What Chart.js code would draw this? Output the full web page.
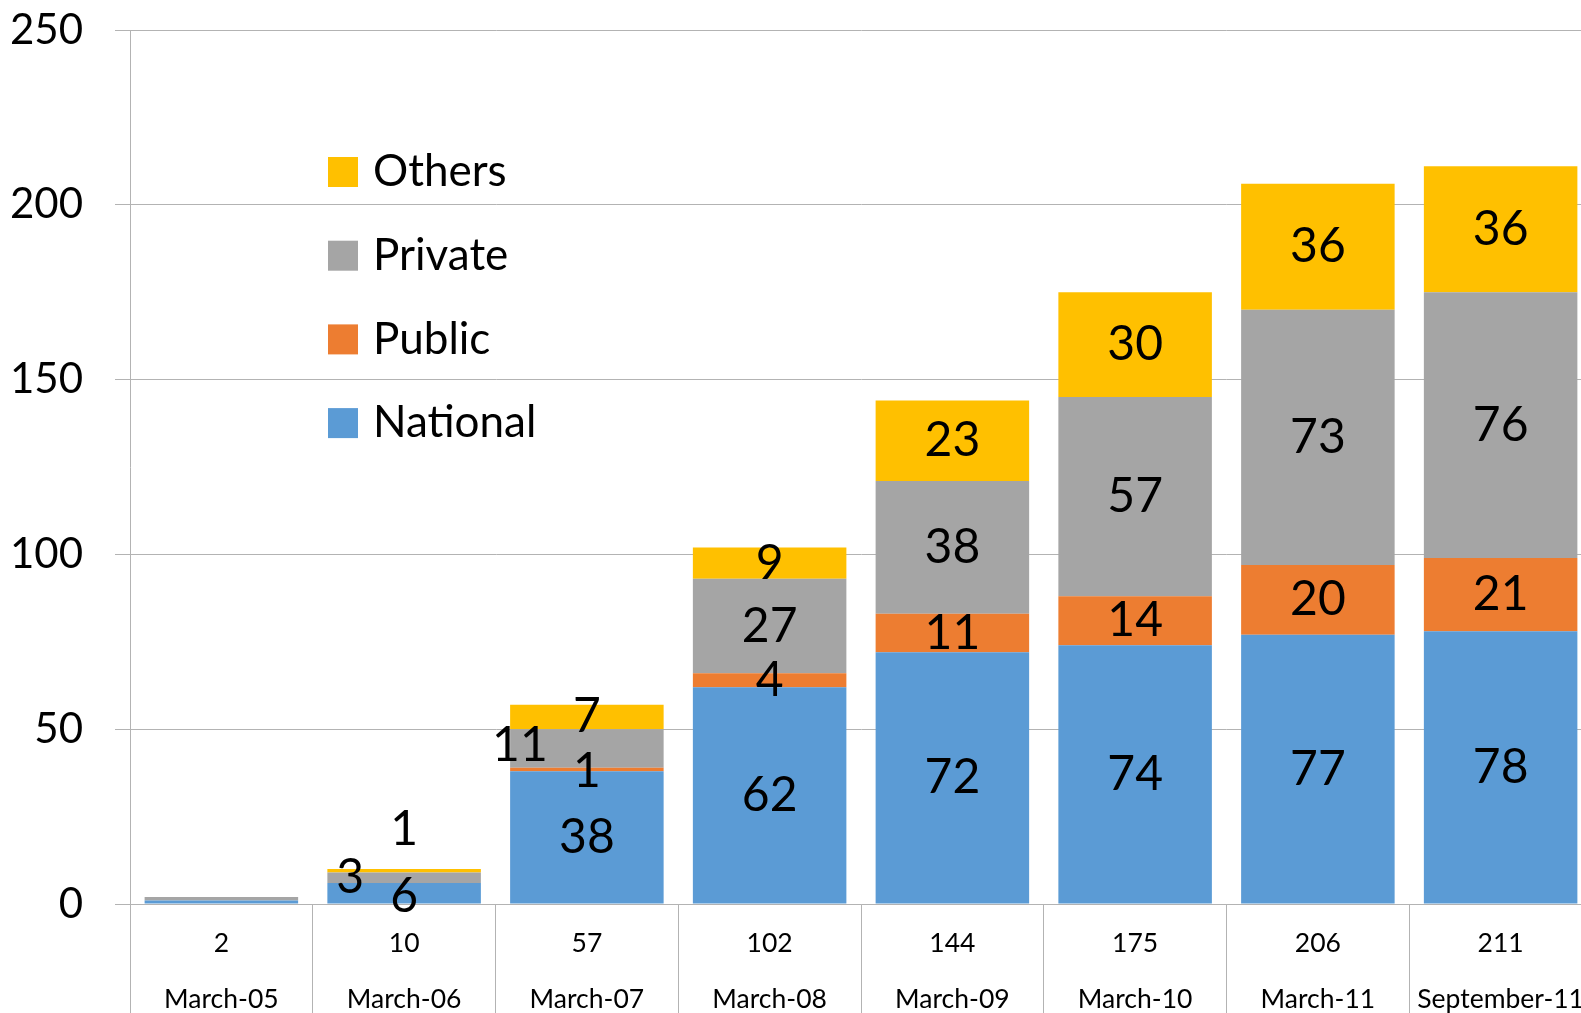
<!DOCTYPE html>
<html>
<head>
<meta charset="utf-8">
<script src="https://cdn.jsdelivr.net/npm/chart.js@4.4.0/dist/chart.umd.min.js"></script>
<style>
  html, body { margin: 0; padding: 0; background: #fff; overflow: hidden; }
  #wrap { width: 1596px; height: 1013px; }
</style>
</head>
<body>
<div id="wrap"><canvas id="myChart" width="1596" height="1013"></canvas></div>
<script>
let categories = ["March-05", "March-06", "March-07", "March-08", "March-09", "March-10", "March-11", "September-11"];
let national = [1, 6, 38, 62, 72, 74, 77, 78];
let publicInst = [0, 0, 1, 4, 11, 14, 20, 21];
let privateInst = [1, 3, 11, 27, 38, 57, 73, 76];
let others = [0, 1, 7, 9, 23, 30, 36, 36];
let yMin = 0, yMax = 250, yStep = 50;

// totals shown in the first row under the axis
let totals = categories.map((c, i) => national[i] + publicInst[i] + privateInst[i] + others[i]);

// labels that were dragged off-centre in the original
const labelNudge = {
  "March-06|Others": [0, -41],
  "March-06|Private": [-54, 0],
  "March-06|National": [0, 3],
  "March-07|Private": [-67, -3],
  "March-07|Public": [0, 2],
};
const noLabels = ["March-05"];

const gridGray = "#b3b3b3";
const fontFam = "Lato, 'Open Sans', sans-serif";

const dataLabels = {
  id: "dataLabels",
  afterDatasetsDraw(chart) {
    const ctx = chart.ctx;
    ctx.save();
    ctx.font = "48px " + fontFam;
    ctx.fillStyle = "#000";
    ctx.textAlign = "center";
    ctx.textBaseline = "middle";
    chart.data.datasets.forEach((ds, di) => {
      const meta = chart.getDatasetMeta(di);
      meta.data.forEach((bar, i) => {
        const v = ds.data[i];
        const cat = categories[i];
        if (!v || noLabels.includes(cat)) return;
        const n = labelNudge[cat + "|" + ds.label] || [0, 0];
        ctx.fillText(String(v), bar.x + n[0], (bar.y + bar.base) / 2 + n[1]);
      });
    });
    ctx.restore();
  },
};

const insideLegend = {
  id: "insideLegend",
  afterDraw(chart) {
    const ctx = chart.ctx;
    ctx.save();
    ctx.font = "44px " + fontFam;
    ctx.textBaseline = "middle";
    ctx.textAlign = "left";
    const items = chart.data.datasets.slice().reverse();
    items.forEach((ds, k) => {
      const cy = 172 + k * 83.7;
      ctx.fillStyle = ds.backgroundColor;
      ctx.fillRect(328, cy - 15, 30, 30);
      ctx.fillStyle = "#000";
      ctx.fillText(ds.label, 373, cy);
    });
    ctx.restore();
  },
};

var ctx = document.getElementById("myChart");

var myChart = new Chart(ctx, {
  type: "bar",
  data: {
    labels: categories,
    datasets: [
      { label: "National", data: national, backgroundColor: "#5b9bd5" },
      { label: "Public", data: publicInst, backgroundColor: "#ed7d31" },
      { label: "Private", data: privateInst, backgroundColor: "#a5a5a5" },
      { label: "Others", data: others, backgroundColor: "#ffc000" },
    ],
  },
  options: {
    responsive: false,
    animation: false,
    devicePixelRatio: 1,
    datasets: {
      bar: { categoryPercentage: 0.84, barPercentage: 1 },
    },
    layout: { padding: { top: 30, right: 4, left: 0, bottom: 0 } },
    plugins: {
      legend: { display: false },
      tooltip: { enabled: false },
    },
    scales: {
      x: {
        stacked: true,
        offset: true,
        border: { display: true, color: gridGray },
        grid: {
          offset: true,
          drawOnChartArea: false,
          drawTicks: true,
          tickLength: 110,
          color: gridGray,
        },
        ticks: {
          color: "#000",
          padding: -99,
          maxRotation: 0,
          autoSkip: false,
          font: { family: fontFam, size: 26.5, lineHeight: 2.12 },
          callback: (val, i) => [String(totals[i]), categories[i]],
        },
        afterFit(scale) {
          scale.height = 109;
          scale.paddingLeft = 0;
          scale.paddingRight = 0;
        },
      },
      y: {
        stacked: true,
        min: yMin,
        max: yMax,
        border: { display: true, color: gridGray },
        grid: { color: gridGray, tickLength: 15 },
        ticks: {
          stepSize: yStep,
          color: "#000",
          padding: 32,
          font: { family: fontFam, size: 42 },
        },
        afterFit(scale) {
          scale.width = 130;
          scale.paddingTop = 0;
          scale.paddingBottom = 0;
        },
      },
    },
  },
  plugins: [dataLabels, insideLegend],
});
</script>
</body>
</html>
